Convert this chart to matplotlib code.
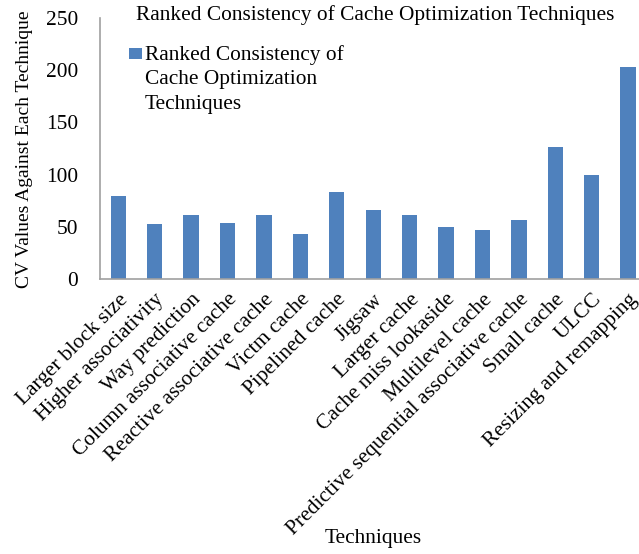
import numpy as np
import matplotlib.pyplot as plt
from matplotlib.patches import Rectangle
from matplotlib.legend_handler import HandlerPatch

plt.rcParams['font.family'] = ['Liberation Serif', 'DejaVu Serif']

techniques = ["Larger block size", "Higher associativity", "Way prediction",
              "Column associative cache", "Reactive associative cache",
              "Victm cache", "Pipelined cache", "Jigsaw", "Larger cache",
              "Cache miss lookaside", "Multilevel cache",
              "Predictive sequential associative cache", "Small cache",
              "ULCC", "Resizing and remapping"]
cv_values = [79.5, 53, 61, 53.5, 61.5, 43, 83.5, 66.5, 61.5, 50, 47, 56.5, 126, 100, 203]
series_name = "Ranked Consistency of\nCache Optimization\nTechniques"

fs = 15.4


# legend box drawn next to the first line of the 3-line label
def top_patch(legend, orig_handle, xdescent, ydescent, width, height, fontsize):
    return Rectangle((-xdescent, -ydescent + 18.5), width, height)


fig = plt.figure(figsize=(6.39, 5.54), dpi=100)
ax = fig.add_axes([0.1565, 0.4964, 0.855, 0.4711])

x = np.arange(len(techniques))
bars = ax.bar(x, cv_values, width=0.42, color='#4F81BD')

ax.set_xlim(-0.5, len(techniques) - 0.5)
ax.set_ylim(0, 250)
ax.set_yticks([0, 50, 100, 150, 200, 250])
ax.set_xticks(x)
ax.set_xticklabels(techniques, rotation=45, ha='right', rotation_mode='anchor')
ax.tick_params(axis='both', length=0, labelsize=fs)
ax.tick_params(axis='x', pad=8)
ax.tick_params(axis='y', pad=15.8)

for s in ['top', 'right']:
    ax.spines[s].set_visible(False)
for s in ['left', 'bottom']:
    ax.spines[s].set_color('#A0A0A0')
    ax.spines[s].set_linewidth(1.2)

fig.text(0.587, 1 - 15 / 554, "Ranked Consistency of Cache Optimization Techniques",
         fontsize=fs, ha='center', va='center')
fig.text(25 / 639, 1 - 149 / 554, "CV Values Against Each Technique",
         fontsize=14, rotation=90, ha='center', va='center')
fig.text(373 / 639, 1 - 538 / 554, "Techniques", fontsize=fs, ha='center', va='center')

leg = ax.legend([bars[0]], [series_name], loc='upper left',
                bbox_to_anchor=(0.053, 0.8966), frameon=False,
                fontsize=fs, borderpad=0, borderaxespad=0,
                handlelength=0.6, handleheight=0.42, handletextpad=0.15,
                handler_map={Rectangle: HandlerPatch(patch_func=top_patch)})
for t in leg.get_texts():
    t.set_linespacing(1.4)

fig.savefig('out.png', dpi=100)
